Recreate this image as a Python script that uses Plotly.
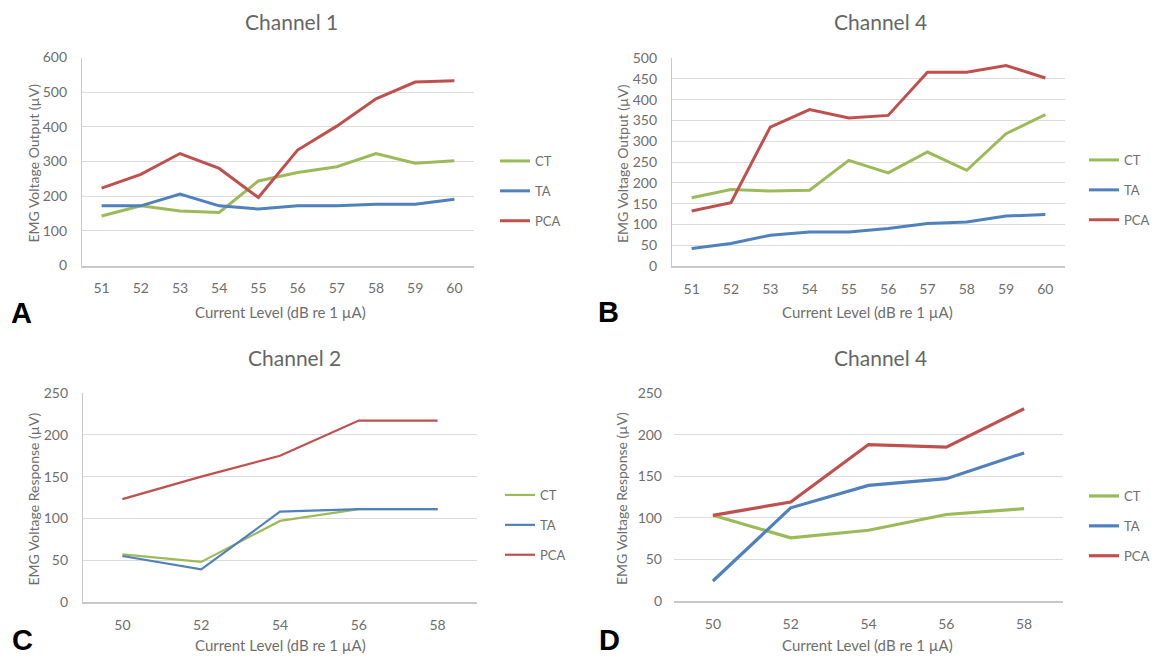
import plotly.graph_objects as go

# ---------------- data ----------------
levels_ab = ["51", "52", "53", "54", "55", "56", "57", "58", "59", "60"]
levels_cd = ["50", "52", "54", "56", "58"]

a_ct = [143, 172, 157, 153, 244, 268, 285, 323, 295, 302]
a_ta = [172, 172, 206, 172, 163, 172, 172, 177, 177, 191]
a_pca = [223, 263, 323, 280, 196, 333, 402, 481, 529, 533]

b_ct = [164, 184, 180, 182, 254, 224, 274, 230, 318, 364]
b_ta = [42, 54, 74, 82, 82, 90, 102, 106, 120, 124]
b_pca = [132, 152, 334, 376, 356, 362, 466, 466, 482, 452]

c_ct = [57, 48, 97, 111, 111]
c_ta = [55, 39, 108, 111, 111]
c_pca = [123, 150, 175, 217, 217]

d_ct = [103, 76, 85, 104, 111]
d_ta = [24, 112, 139, 147, 178]
d_pca = [103, 119, 188, 185, 231]

series_names = ["CT", "TA", "PCA"]
titles = ["Channel 1", "Channel 4", "Channel 2", "Channel 4"]
letters = ["A", "B", "C", "D"]
ytitles = ["EMG Voltage Output (µV)", "EMG Voltage Output (µV)",
           "EMG Voltage Response (µV)", "EMG Voltage Response (µV)"]
xtitle = "Current Level (dB re 1 µA)"

# ---------------- style ----------------
W, H = 1154, 657
colors = ["#9bbb59", "#4f81bd", "#c0504d"]
txt = "#6e6e6e"
grid = "#dcdcdc"
font = "Lato"

def fx(px):
    return px / W

def fy(py):
    return 1 - py / H

# panel geometry in pixels: (x0, x1, ytop, ybottom)
panels = [
    (82, 474, 57.5, 265.5),
    (672, 1065, 58, 266),
    (83, 477, 393, 602),
    (674, 1063, 393, 601),
]
yranges = [(0, 600, 100), (0, 500, 50), (0, 250, 50), (0, 250, 50)]
widths = [3, 3, 2.2, 3.2]
show_yline = [True, True, True, False]

panel_data = [
    (levels_ab, [a_ct, a_ta, a_pca]),
    (levels_ab, [b_ct, b_ta, b_pca]),
    (levels_cd, [c_ct, c_ta, c_pca]),
    (levels_cd, [d_ct, d_ta, d_pca]),
]

fig = go.Figure()
layout = dict(
    width=W, height=H,
    margin=dict(l=0, r=0, t=0, b=0, autoexpand=False),
    paper_bgcolor="white", plot_bgcolor="white",
    font=dict(family=font, color=txt, size=13),
    showlegend=True,
    annotations=[],
)

legend_pos = [(495, 146), (1084, 145), (500, 480), (1084, 481)]
title_y = [21, 21, 357, 357]
title_x = [292, 880, 294, 880]
xtitle_y = [312, 312, 645, 645]
xtitle_x = [280, 867, 280, 867]
ytitle_x = [33, 622, 33, 621]
letter_y = [313, 312, 640, 640]
letter_x = [21, 608, 22, 609]

for i, (cats, ys) in enumerate(panel_data):
    k = "" if i == 0 else str(i + 1)
    leg = "legend" if i == 0 else f"legend{i + 1}"
    for s, (name, vals) in enumerate(zip(series_names, ys)):
        fig.add_trace(go.Scatter(
            x=cats, y=vals, mode="lines", name=name,
            line=dict(color=colors[s], width=widths[i]),
            xaxis=f"x{k}", yaxis=f"y{k}",
            legend=leg, legendgroup=f"g{i}{s}",
        ))
    x0, x1, yt, yb = panels[i]
    lo, hi, dt = yranges[i]
    layout[f"xaxis{k}"] = dict(
        domain=[fx(x0), fx(x1)], anchor=f"y{k}", type="category",
        range=[-0.5, len(cats) - 0.5], showgrid=False, zeroline=False,
        showline=True, linecolor="#c8c8c8", linewidth=1.5, ticks="",
        tickfont=dict(size=14, color=txt), ticklabelstandoff=9,
        fixedrange=True, automargin=False,
    )
    layout[f"yaxis{k}"] = dict(
        domain=[fy(yb), fy(yt)], anchor=f"x{k}", range=[lo, hi], dtick=dt,
        tick0=0, showgrid=True, gridcolor=grid, gridwidth=1.3,
        zeroline=False, showline=show_yline[i], linecolor="#c8c8c8",
        linewidth=1.3, ticks="", tickfont=dict(size=14, color=txt),
        ticklabelstandoff=11, fixedrange=True, automargin=False,
    )
    lx, ly = legend_pos[i]
    layout[leg] = dict(
        x=fx(lx), y=fy(ly), xanchor="left", yanchor="top",
        xref="paper", yref="paper", bgcolor="rgba(0,0,0,0)",
        font=dict(size=13, color=txt), traceorder="grouped",
        tracegroupgap=10, itemwidth=30,
    )
    # title
    layout["annotations"].append(dict(
        text=titles[i], x=fx(title_x[i]), y=fy(title_y[i]), xref="paper",
        yref="paper", showarrow=False, font=dict(size=21, color="#666666"),
        xanchor="center", yanchor="middle"))
    # x title
    layout["annotations"].append(dict(
        text=xtitle, x=fx(xtitle_x[i]), y=fy(xtitle_y[i]), xref="paper",
        yref="paper", showarrow=False, font=dict(size=15, color=txt),
        xanchor="center", yanchor="middle"))
    # y title
    layout["annotations"].append(dict(
        text=ytitles[i], x=fx(ytitle_x[i]), y=fy((yt + yb) / 2 + 2),
        xref="paper", yref="paper", showarrow=False, textangle=-90,
        font=dict(size=14, color=txt), xanchor="center", yanchor="middle"))
    # panel letter
    layout["annotations"].append(dict(
        text=f"<b>{letters[i]}</b>", x=fx(letter_x[i]), y=fy(letter_y[i]),
        xref="paper", yref="paper", showarrow=False,
        font=dict(size=29, color="black", family="Liberation Sans"),
        xanchor="center", yanchor="middle"))

fig.update_layout(**layout)
fig.write_html(
    "out.html",
    config={"displayModeBar": False},
    post_script="document.body.style.margin='0px';document.body.style.overflow='hidden';",
)
